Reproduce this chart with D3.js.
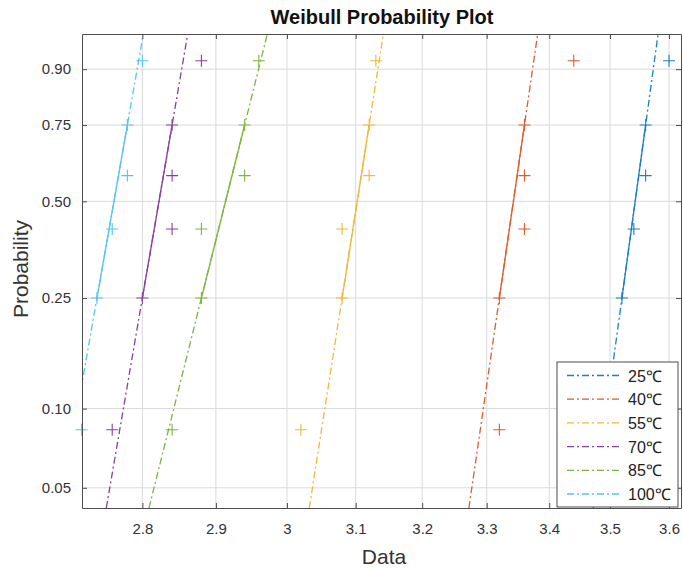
<!DOCTYPE html>
<html>
<head>
<meta charset="utf-8">
<script src="https://cdn.jsdelivr.net/npm/d3@7"></script>
<style>
  body { margin: 0; background: #fff; }
  svg { display: block; font-family: "Liberation Sans", Arial, sans-serif; }
</style>
</head>
<body>
<div id="chart"></div>
<script>
/* ============================================
   WEIBULL PROBABILITY PLOT
   ============================================ */

// Legend labels and colours (MATLAB default order)
const tempLabels = ['25℃', '40℃', '55℃', '70℃', '85℃', '100℃'];
const seriesColors = ['#1a7dc6', '#e05a2b', '#efb838', '#8a3f9a', '#7db33f', '#55c3f0'];

// Sorted observations per temperature
const obs25 = [3.48, 3.52, 3.54, 3.56, 3.56, 3.60];
const obs40 = [3.32, 3.32, 3.36, 3.36, 3.36, 3.44];
const obs55 = [3.02, 3.08, 3.08, 3.12, 3.12, 3.13];
const obs70 = [2.76, 2.80, 2.84, 2.84, 2.84, 2.88];
const obs85 = [2.84, 2.88, 2.88, 2.94, 2.94, 2.96];
const obs100 = [2.72, 2.74, 2.76, 2.78, 2.78, 2.80];

// Plotting positions of the six sorted points
const plotPos = [0.0833, 0.25, 0.4167, 0.5833, 0.75, 0.9167];

// Axis ticks and limits
const xTicks = [2.8, 2.9, 3.0, 3.1, 3.2, 3.3, 3.4, 3.5, 3.6];
const xTickLabels = ['2.8', '2.9', '3', '3.1', '3.2', '3.3', '3.4', '3.5', '3.6'];
const probTicks = [0.05, 0.10, 0.25, 0.50, 0.75, 0.90];
const probTickLabels = ['0.05', '0.10', '0.25', '0.50', '0.75', '0.90'];
const xLimits = [2.7205, 3.6206];
const probLimits = [0.0418, 0.958];

const seriesData = [obs25, obs40, obs55, obs70, obs85, obs100];

// Weibull probability transform
const wbl = p => Math.log(-Math.log(1 - p));

const W = 683, H = 569;
const margin = { top: 34, right: 2, bottom: 61, left: 82 };
const width = W - margin.left - margin.right;
const height = H - margin.top - margin.bottom;

const svg = d3.select('#chart')
  .append('svg')
  .attr('width', W)
  .attr('height', H);

const g = svg.append('g')
  .attr('transform', `translate(${margin.left},${margin.top})`);

const x = d3.scaleLog()
  .domain(xLimits)
  .range([0, width]);

const y = d3.scaleLinear()
  .domain(probLimits.map(wbl))
  .range([height, 0]);

// Grid
g.append('g')
  .selectAll('line')
  .data(xTicks)
  .join('line')
  .attr('x1', d => x(d)).attr('x2', d => x(d))
  .attr('y1', 0).attr('y2', height)
  .attr('stroke', '#d9d9d9')
  .attr('stroke-width', 1);

g.append('g')
  .selectAll('line')
  .data(probTicks)
  .join('line')
  .attr('x1', 0).attr('x2', width)
  .attr('y1', d => y(wbl(d))).attr('y2', d => y(wbl(d)))
  .attr('stroke', '#d9d9d9')
  .attr('stroke-width', 1);

// Clip for reference lines
svg.append('defs').append('clipPath')
  .attr('id', 'plot-clip')
  .append('rect')
  .attr('width', width)
  .attr('height', height);

const lines = g.append('g').attr('clip-path', 'url(#plot-clip)');
const dashPattern = '7,3,2,3';

seriesData.forEach((obs, i) => {
  // Reference line through 1st and 3rd quartile points
  const lx1 = Math.log(obs[1]), lx3 = Math.log(obs[4]);
  const g1 = wbl(plotPos[1]), g3 = wbl(plotPos[4]);
  const slope = (lx3 - lx1) / (g3 - g1);
  const atG = gv => ({ v: Math.exp(lx1 + (gv - g1) * slope), gv });

  const line = d3.line()
    .x(d => x(d.v))
    .y(d => y(d.gv));

  const yDom = y.domain();
  lines.append('path')
    .datum([atG(yDom[0]), atG(yDom[1])])
    .attr('fill', 'none')
    .attr('stroke', seriesColors[i])
    .attr('stroke-width', 1.3)
    .attr('stroke-dasharray', dashPattern)
    .attr('d', line);

  lines.append('path')
    .datum([atG(g1), atG(g3)])
    .attr('fill', 'none')
    .attr('stroke', seriesColors[i])
    .attr('stroke-width', 1.3)
    .attr('d', line);
});

// Markers
seriesData.forEach((obs, i) => {
  const pts = obs.map((v, k) => ({ v, p: plotPos[k] }));
  g.append('g')
    .selectAll('path')
    .data(pts)
    .join('path')
    .attr('d', d => {
      const cx = x(d.v), cy = y(wbl(d.p)), r = 6;
      return `M${cx - r},${cy}H${cx + r}M${cx},${cy - r}V${cy + r}`;
    })
    .attr('stroke', seriesColors[i])
    .attr('stroke-width', 1.1)
    .attr('fill', 'none');
});

// Axes
const axisColor = '#4d4d4d';
const styleAxis = sel => {
  sel.select('.domain').attr('stroke', axisColor);
  sel.selectAll('.tick line').attr('stroke', axisColor);
  sel.selectAll('.tick text').attr('fill', '#333').style('font-size', '15px');
};

g.append('g')
  .attr('transform', `translate(0,${height})`)
  .call(d3.axisBottom(x).tickValues(xTicks)
    .tickFormat((d, k) => xTickLabels[k])
    .tickSize(-5).tickSizeOuter(0).tickPadding(15))
  .call(styleAxis);

g.append('g')
  .call(d3.axisTop(x).tickValues(xTicks)
    .tickFormat('').tickSize(-5).tickSizeOuter(0))
  .call(styleAxis);

g.append('g')
  .call(d3.axisLeft(y).tickValues(probTicks.map(wbl))
    .tickFormat((d, k) => probTickLabels[k])
    .tickSize(-5).tickSizeOuter(0).tickPadding(11))
  .call(styleAxis);

g.append('g')
  .attr('transform', `translate(${width},0)`)
  .call(d3.axisRight(y).tickValues(probTicks.map(wbl))
    .tickFormat('').tickSize(-5).tickSizeOuter(0))
  .call(styleAxis);

// Title and axis labels
svg.append('text')
  .attr('x', 382)
  .attr('y', 24)
  .attr('text-anchor', 'middle')
  .style('font-size', '20px')
  .style('font-weight', 'bold')
  .style('fill', '#111')
  .text('Weibull Probability Plot');

svg.append('text')
  .attr('x', 384)
  .attr('y', 564)
  .attr('text-anchor', 'middle')
  .style('font-size', '21px')
  .style('fill', '#333')
  .text('Data');

svg.append('text')
  .attr('transform', 'translate(28,269) rotate(-90)')
  .attr('text-anchor', 'middle')
  .style('font-size', '21px')
  .style('fill', '#333')
  .text('Probability');

// Legend
const legend = svg.append('g')
  .attr('transform', 'translate(557,362)');

legend.append('rect')
  .attr('width', 121)
  .attr('height', 145)
  .attr('fill', '#fff')
  .attr('stroke', axisColor)
  .attr('stroke-width', 1);

tempLabels.forEach((lab, i) => {
  const row = legend.append('g')
    .attr('transform', `translate(0, ${13.5 + i * 23.7})`);

  row.append('line')
    .attr('x1', 10).attr('x2', 65)
    .attr('stroke', seriesColors[i])
    .attr('stroke-width', 1.3)
    .attr('stroke-dasharray', dashPattern);

  row.append('text')
    .attr('x', 71)
    .attr('y', 6)
    .style('font-size', '16px')
    .style('fill', '#222')
    .text(lab);
});
</script>
</body>
</html>
